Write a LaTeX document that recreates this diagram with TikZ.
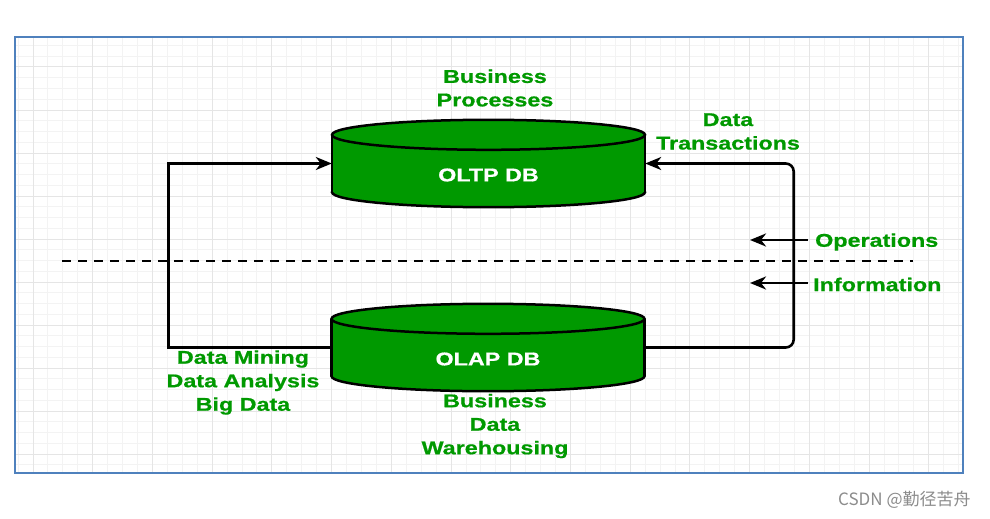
\documentclass[tikz,border=0pt]{standalone}
\usepackage{fontspec}
\setmainfont{Liberation Sans}
\newfontfamily\lblfont[FakeStretch=1.26,FakeBold=0.7]{Liberation Sans Bold}
\newfontfamily\cjkfont{Noto Sans CJK SC}
\usetikzlibrary{positioning,arrows.meta}
\definecolor{dbgreen}{RGB}{0,153,0}
\definecolor{framebl}{RGB}{79,129,189}
\definecolor{gridmin}{RGB}{243,243,243}
\definecolor{gridmaj}{RGB}{229,229,229}
\pgfdeclarelayer{grid}
\pgfdeclarelayer{drum}
\pgfsetlayers{grid,drum,main}
\tikzset{>={Stealth[length=16pt,width=13pt,inset=5pt]},
  minor/.style={gridmin,line width=1pt},
  major/.style={gridmaj,line width=1pt},
  frame/.style={framebl,line width=2pt},
  db/.style={minimum width=313pt,minimum height=57pt,inner sep=0pt},
  dbtext/.style={text=white,inner sep=0pt,yshift=-11.5pt,
    font=\lblfont\fontsize{18.5}{23.5}\selectfont},
  drumline/.style={draw=black,fill=dbgreen,line width=2.5pt},
  lbl/.style={text=dbgreen,align=center,inner sep=0pt,
    font=\lblfont\fontsize{18.5}{23.5}\selectfont},
  flow/.style={->,line width=2.6pt},
  divider/.style={line width=2.4pt,dash pattern=on 9pt off 7pt}}

\begin{document}
\begin{tikzpicture}[x=1pt,y=-1pt]
  \useasboundingbox (0,0) rectangle (990,519);
  \begin{pgfonlayer}{grid}
    \fill [white] (0,0) rectangle (990,519);
    \foreach \i in {0,...,63} \draw [minor] ({18.1+14.93*\i},37) -- ++(0,436);
    \foreach \j in {0,...,39} \draw [minor] (15,{45.5+10.75*\j}) -- ++(948,0);
    \foreach \i in {0,...,15} \draw [major] ({33+59.72*\i},37) -- ++(0,436);
    \foreach \j in {0,...,9} \draw [major] (15,{67+43*\j}) -- ++(948,0);
  \end{pgfonlayer}
  \draw [frame] (15,37) rectangle (963,473);

  \node [db,label={[dbtext]center:OLTP DB}] (oltp) at (488.5,163.5) {};
  \node [db,label={[dbtext]center:OLAP DB}] (olap) at (488,347.5) {};
  \begin{pgfonlayer}{drum}
    \foreach \n in {oltp,olap} {
      \draw [drumline] (\n.south) ellipse [x radius=156.5,y radius=15];
      \fill [dbgreen] (\n.north west) rectangle (\n.south east);
      \draw [line width=2.5pt] (\n.north west) -- (\n.south west)
        (\n.north east) -- (\n.south east);
      \draw [drumline] (\n.north) ellipse [x radius=156.5,y radius=15];
    }
  \end{pgfonlayer}

  \node [lbl] (bizproc) at (495,88) {Business\\Processes};
  \node [lbl] (datatx) at (728,131.5) {Data\\Transactions};
  \node [lbl,anchor=west] (ops) at (815,242) {Operations};
  \node [lbl,anchor=west] (info) at (813,284.5) {Information};
  \node [lbl] (mining) at (243,382.5) {Data Mining\\Data Analysis\\Big Data};
  \node [lbl] (warehouse) at (495,426) {Business\\Data\\Warehousing};

  \draw [flow] (olap.west) -- ++(-163,0) |- (oltp.west);
  \draw [flow,rounded corners=8pt] (olap.east) -- ++(149,0) |- (oltp.east);
  \draw [flow] ([xshift=-7pt,yshift=2pt]ops.west) -- ++(-58,0);
  \draw [flow] ([xshift=-5pt,yshift=1.5pt]info.west) -- ++(-58,0);

  \coordinate (cutl) at (62,261);
  \coordinate (cutr) at (913,261);
  \draw [divider] (cutl) -- (cutr);

  \node [anchor=west,text=black!45,inner sep=0pt,
    font=\cjkfont\fontsize{17}{20}\selectfont] (mark) at (838,500) {CSDN @勤径苦舟};
\end{tikzpicture}
\end{document}
